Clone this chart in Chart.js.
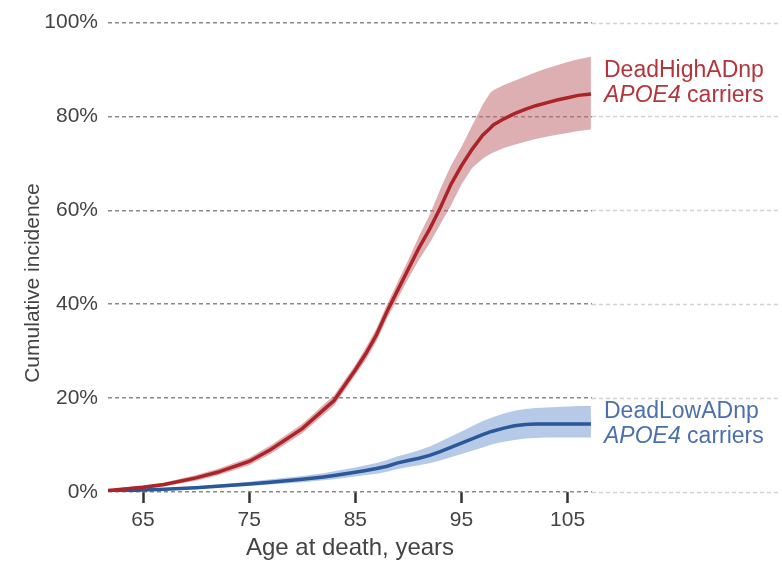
<!DOCTYPE html>
<html>
<head>
<meta charset="utf-8">
<script src="https://cdn.jsdelivr.net/npm/chart.js@4.4.1/dist/chart.umd.min.js"></script>
<style>
  html, body { margin: 0; padding: 0; background: #fff; }
  #wrap { width: 782px; height: 565px; position: relative; }
</style>
</head>
<body>
<div id="wrap"><canvas id="chart"></canvas></div>
<script>
  const ages = [61.7, 63, 65, 67, 70, 72, 75, 77, 80, 82, 83, 85, 86, 87, 88, 89, 90, 91, 92, 93, 94, 95, 96, 97, 97.7, 98, 99, 100, 101, 102, 103, 104, 105, 106, 107.2];

  const highLine = [0.3, 0.6, 1.0, 1.6, 3.0, 4.2, 6.5, 9.0, 13.5, 17.5, 19.5, 26, 29.5, 33.5, 38.5, 43, 47.5, 52, 56, 60.5, 65.5, 69.5, 73, 76, 77.5, 78.2, 79.5, 80.6, 81.5, 82.3, 82.9, 83.5, 84, 84.5, 84.8];
  const highUpper = [0.5, 0.9, 1.4, 2.0, 3.6, 4.9, 7.3, 9.9, 14.5, 18.6, 20.6, 27.1, 30.8, 34.9, 40, 44.8, 49.5, 54.5, 59, 64.5, 69.5, 73.5, 78, 82.5, 85, 85.6, 86.7, 87.6, 88.5, 89.4, 90.2, 90.9, 91.6, 92.2, 92.7];
  const highLower = [0.1, 0.3, 0.6, 1.2, 2.4, 3.5, 5.7, 8.1, 12.5, 16.4, 18.4, 24.9, 28.2, 32.1, 37, 41.2, 45.5, 49.5, 53, 57, 61, 65.5, 69, 71, 72, 72.3, 73.3, 74, 74.6, 75.2, 75.7, 76.1, 76.5, 76.9, 77.2];

  const lowLine = [0.2, 0.3, 0.4, 0.6, 0.9, 1.2, 1.7, 2.1, 2.7, 3.2, 3.5, 4.2, 4.6, 5.0, 5.5, 6.2, 6.7, 7.2, 7.8, 8.6, 9.5, 10.4, 11.3, 12.2, 12.8, 13.0, 13.6, 14.1, 14.4, 14.5, 14.5, 14.5, 14.5, 14.5, 14.5];
  const lowUpper = [0.3, 0.45, 0.6, 0.85, 1.2, 1.6, 2.2, 2.7, 3.4, 4.0, 4.4, 5.2, 5.7, 6.2, 6.8, 7.6, 8.2, 8.9, 9.7, 10.7, 11.8, 12.9, 14.0, 15.1, 15.7, 16.0, 16.7, 17.3, 17.7, 17.9, 18.0, 18.1, 18.2, 18.3, 18.3];
  const lowLower = [0.1, 0.18, 0.25, 0.4, 0.65, 0.9, 1.3, 1.6, 2.1, 2.5, 2.7, 3.3, 3.6, 3.9, 4.3, 4.9, 5.3, 5.7, 6.1, 6.7, 7.4, 8.1, 8.8, 9.5, 10.0, 10.2, 10.7, 11.1, 11.4, 11.5, 11.6, 11.6, 11.6, 11.6, 11.6];

  const xTicks = [65, 75, 85, 95, 105];
  const yTicks = [0, 20, 40, 60, 80, 100];

  const redColor = "#ab2429";
  const blueColor = "#2a5898";
  const textColor = "#444";
  const font = "'Liberation Sans', Arial, sans-serif";

  const pts = (arr) => arr.map((v, i) => ({ x: ages[i], y: v }));

  // dashed grid continues, fainter, to the right of the plot; plus labels
  const extras = {
    id: "extras",
    beforeDatasetsDraw(chart) {
      const c = chart.ctx;
      const y = chart.scales.y;
      c.save();
      c.strokeStyle = "#d2d2d2";
      c.lineWidth = 1.6;
      c.setLineDash([4, 3]);
      yTicks.forEach((v) => {
        const py = Math.round(y.getPixelForValue(v)) + 0.5;
        c.beginPath();
        c.moveTo(chart.chartArea.right, py);
        c.lineTo(780, py);
        c.stroke();
      });
      c.restore();
    },
    afterDatasetsDraw(chart) {
      const c = chart.ctx;
      c.save();
      c.textBaseline = "middle";
      c.textAlign = "left";
      const x0 = 604;
      function two(first, yy, color) {
        c.fillStyle = color;
        c.font = "23px " + font;
        c.fillText(first, x0, yy);
        c.font = "italic 23px " + font;
        c.fillText("APOE4", x0, yy + 25);
        const w = c.measureText("APOE4 ").width;
        c.font = "23px " + font;
        c.fillText("carriers", x0 + w, yy + 25);
      }
      two("DeadHighADnp", 71, "#b3353b");
      two("DeadLowADnp", 412, "#4b70ab");

      c.translate(33, 283);
      c.rotate(-Math.PI / 2);
      c.textAlign = "center";
      c.fillStyle = textColor;
      c.font = "21px " + font;
      c.fillText("Cumulative incidence", 0, 0);
      c.restore();
    },
  };

  new Chart(document.getElementById("chart"), {
    type: "line",
    data: {
      datasets: [
        { data: pts(highUpper), borderWidth: 0, pointRadius: 0, backgroundColor: "rgba(195,110,115,0.55)", fill: "+1", order: 3 },
        { data: pts(highLower), borderWidth: 0, pointRadius: 0, fill: false, order: 3 },
        { data: pts(lowUpper), borderWidth: 0, pointRadius: 0, backgroundColor: "rgba(110,150,210,0.5)", fill: "+1", order: 3 },
        { data: pts(lowLower), borderWidth: 0, pointRadius: 0, fill: false, order: 3 },
        { data: pts(highLine), borderColor: redColor, borderWidth: 3.5, pointRadius: 0, fill: false, order: 1 },
        { data: pts(lowLine), borderColor: blueColor, borderWidth: 3.5, pointRadius: 0, fill: false, order: 1 },
      ],
    },
    options: {
      responsive: true,
      maintainAspectRatio: false,
      animation: false,
      layout: { padding: { top: 19, right: 190, left: 0, bottom: 0 } },
      plugins: { legend: { display: false }, tooltip: { enabled: false } },
      scales: {
        x: {
          type: "linear",
          min: 61.7,
          max: 107.3,
          afterBuildTicks: (ax) => { ax.ticks = xTicks.map((v) => ({ value: v })); },
          afterFit: (ax) => { ax.height = 73; },
          border: { display: false },
          grid: { drawOnChartArea: false, drawTicks: true, tickLength: 11, tickWidth: 2.5, tickColor: "#333" },
          ticks: { color: textColor, font: { family: font, size: 21 }, padding: 5, maxRotation: 0 },
          title: { display: true, text: "Age at death, years", color: textColor, font: { family: font, size: 24 }, padding: { top: 0, bottom: 2 } },
        },
        y: {
          min: 0,
          max: 100,
          afterBuildTicks: (ax) => { ax.ticks = yTicks.map((v) => ({ value: v })); },
          afterFit: (ax) => { ax.width = 108; },
          border: { display: false, dash: [4, 3] },
          grid: { color: "#8a8a8a", lineWidth: 1.6, drawTicks: false },
          ticks: { color: textColor, font: { family: font, size: 21 }, padding: 10, callback: (v) => v + "%" },
        },
      },
    },
    plugins: [extras],
  });
</script>
</body>
</html>
